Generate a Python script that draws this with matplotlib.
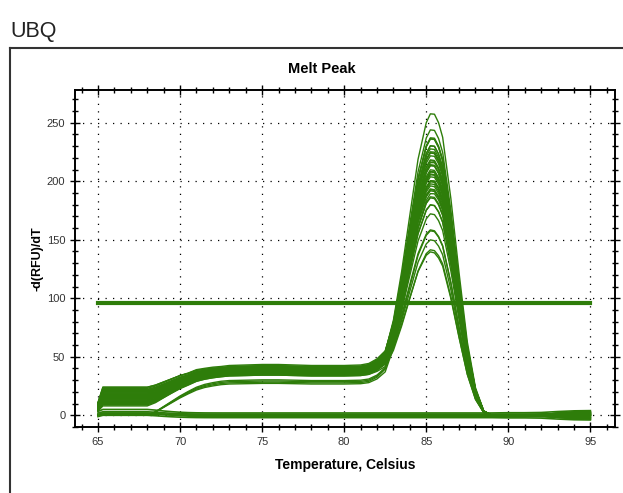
import numpy as np
import matplotlib
matplotlib.use("Agg")
import matplotlib.pyplot as plt
from matplotlib.lines import Line2D
from matplotlib.ticker import MultipleLocator

plt.rcParams['font.family'] = ['Liberation Sans Narrow', 'Liberation Sans', 'DejaVu Sans']

# temperature grid
temp = [65.0, 65.3, 66, 67, 68, 68.5, 69, 69.5, 70, 70.5, 71, 71.5, 72, 72.5, 73, 74,
        75, 76, 77, 78, 79, 80, 81, 81.5, 82, 82.5, 83, 83.5, 84, 84.5, 85, 85.25, 85.5,
        85.75, 86, 86.5, 87, 87.5, 88, 88.5, 89, 90, 91, 92, 93, 94, 95]

# early signal (65-68 C), fades by ~72 C
early = [0.45, 1, 1, 1, 1, 0.9, 0.75, 0.6, 0.45, 0.3, 0.2, 0.1, 0.05, 0, 0, 0,
         0, 0, 0, 0, 0, 0, 0, 0, 0, 0, 0, 0, 0, 0, 0, 0, 0,
         0, 0, 0, 0, 0, 0, 0, 0, 0, 0, 0, 0, 0, 0]
# plateau between 72 and 83 C
rise = [0, 0, 0, 0, 0, 0.1, 0.25, 0.4, 0.55, 0.68, 0.8, 0.88, 0.93, 0.97, 0.99, 1.0,
        1.01, 1.01, 1.0, 0.99, 0.99, 0.99, 1.0, 1.02, 1.05, 1.05, 1.05, 1.04, 1.0, 0.95, 0.88, 0.84, 0.8,
        0.75, 0.7, 0.57, 0.42, 0.26, 0.13, 0.03, 0, 0, 0, 0, 0, 0, 0]
# melt peak around 85.5 C
peak = [0, 0, 0, 0, 0, 0, 0, 0, 0, 0, 0, 0, 0, 0, 0, 0,
        0, 0, 0, 0, 0, 0, 0, 0.002, 0.014, 0.045, 0.15, 0.31, 0.5, 0.69, 0.82, 0.855, 0.86,
        0.84, 0.8, 0.62, 0.4, 0.2, 0.07, 0.01, 0, 0, 0, 0, 0, 0, 0]
# noise at the high end (93-95 C)
tail = [0, 0, 0, 0, 0, 0, 0, 0, 0, 0, 0, 0, 0, 0, 0, 0,
        0, 0, 0, 0, 0, 0, 0, 0, 0, 0, 0, 0, 0, 0, 0, 0, 0,
        0, 0, 0, 0, 0, 0, 0, 0, 0.1, 0.1, 0.2, 0.6, 0.9, 1.0]

# per well values
peak_h = [262, 245, 240, 238, 235, 233, 230, 228, 226, 224, 222, 220, 218, 216, 214,
          212, 210, 208, 206, 204, 202, 200, 198, 196, 194, 192, 190, 188, 186, 184,
          180, 175, 172, 165, 150, 148, 140, 132, 127, 225, 215, 205, 195]
plateau_h = [40, 41, 38, 39, 42, 37, 40, 36, 41, 39, 38, 43, 37, 40, 36,
             39, 41, 38, 35, 40, 37, 42, 36, 39, 38, 34, 40, 37, 41, 35,
             38, 36, 39, 37, 35, 38, 36, 34, 37, 28, 29, 30, 27]
start_h = [20, 22, 15, 18, 24, 12, 19, 10, 21, 17, 16, 23, 14, 20, 9,
           18, 22, 13, 11, 19, 15, 24, 8, 17, 16, 10, 21, 14, 20, 12,
           18, 15, 17, 13, 11, 16, 12, 9, 14, 0, 0, 0, 0]
tail_h = [2, -2, 1, -3, 3, 0, -1, 2, -2, 1, 3, -3, 0, 2, -1,
          1, -2, 3, 0, -1, 2, -3, 1, 0, -2, 3, 1, -1, 2, 0,
          -2, 1, 0, 3, -1, 2, -3, 1, 0, 0, -1, 1, 0]

# negative controls: flat near zero
neg_level = [-2.0, -1.0, 0.0, 1.0, 2.0, 0.5]
neg_start = [2, 3, 1, 2, 3, 1]

threshold = 96

green = "#2e7d0a"

fig = plt.figure(figsize=(6.23, 4.93), dpi=100)
ax = fig.add_axes([75 / 623, 1 - 427 / 493, 540 / 623, 337 / 493])

t = np.array(temp)
early = np.array(early)
rise = np.array(rise)
peak = np.array(peak)
tail = np.array(tail)

for ph, pl, st, tl in zip(peak_h, plateau_h, start_h, tail_h):
    y = st * early + pl * rise + ph * peak + tl * tail
    ax.plot(t, y, color=green, lw=1.0, zorder=3)

for lv, st in zip(neg_level, neg_start):
    y = lv + st * early * (1 - rise) + tail * lv
    ax.plot(t, y, color=green, lw=1.2, zorder=3)

ax.plot([65, 95], [threshold, threshold], color=green, lw=3, zorder=4)

ax.set_xlim(63.6, 96.5)
ax.set_ylim(-10, 278)
ax.xaxis.set_major_locator(MultipleLocator(5))
ax.xaxis.set_minor_locator(MultipleLocator(1))
ax.yaxis.set_major_locator(MultipleLocator(50))
ax.yaxis.set_minor_locator(MultipleLocator(10))
ax.tick_params(which='both', direction='inout', top=True, right=True,
               labelsize=8, labelcolor='#333333', width=1.0)
ax.tick_params(which='major', length=7)
ax.tick_params(which='minor', length=4)
ax.grid(True, which='major', color='black', linestyle=(0, (1, 5)), lw=0.9)
for s in ax.spines.values():
    s.set_linewidth(1.4)

ax.set_xlabel("Temperature, Celsius", fontsize=10, fontweight='bold', labelpad=8)
ax.set_ylabel("-d(RFU)/dT", fontsize=9, fontweight='bold', labelpad=2)

fig.text(322 / 623, 1 - 69 / 493, "Melt Peak", ha='center', va='center',
         fontsize=10.5, fontweight='bold')
fig.text(10 / 623, 1 - 37 / 493, "UBQ", ha='left', va='baseline',
         fontsize=15.5, color='#222222')

# panel border (left and top edges only visible)
fig.add_artist(Line2D([10 / 623, 10 / 623], [0, 1 - 48 / 493], color='#333333', lw=1.5))
fig.add_artist(Line2D([10 / 623, 1], [1 - 48 / 493, 1 - 48 / 493], color='#333333', lw=1.5))

fig.savefig("out.png", dpi=100)
